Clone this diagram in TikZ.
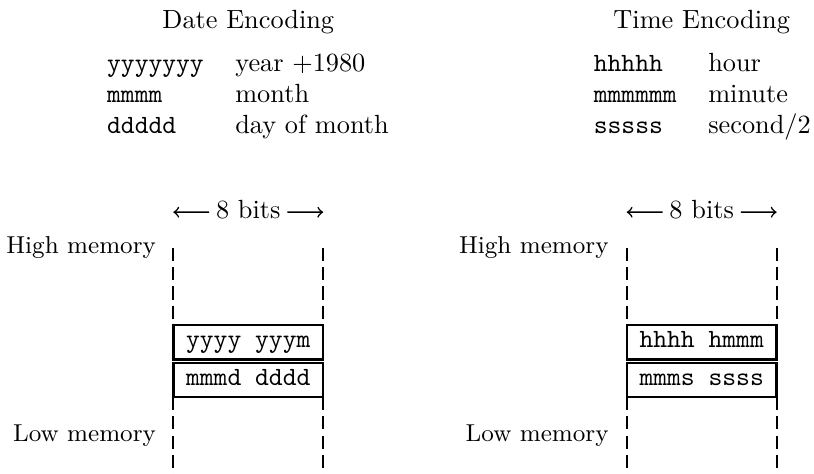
\documentclass[tikz,border=0pt]{standalone}
\usetikzlibrary{positioning}

\begin{document}
\begin{tikzpicture}[x=1cm,y=1cm,>=to,
  byte/.style={draw,line width=0.9pt,minimum width=57pt,minimum height=13.1pt,
    inner sep=0pt,outer sep=0pt,font=\ttfamily,text height=6.1pt,text depth=2.2pt},
  wall/.style={thick,dash pattern=on 5pt off 2.3pt},
  memlabel/.style={anchor=base east,inner sep=0pt,font=\fontsize{9.3pt}{11pt}\selectfont},
  bits/.style={anchor=base,inner xsep=2.4pt,inner ysep=0pt}]
\useasboundingbox (0,0) rectangle (10.879,6.335);

% date encoding table
\node[anchor=base] (dateTitle) at (3.318,5.957) {Date Encoding};
\foreach \code/\desc [count=\i] in {yyyyyyy/{year $+1980$},mmmm/month,ddddd/{day of month}} {
  \node[anchor=base west,inner sep=0pt] (dateCode\i) at (1.425,{5.373-0.408*(\i-1)}) {\texttt{\code}};
  \node[anchor=base west,inner sep=0pt] (dateDesc\i) at (3.138,{5.373-0.408*(\i-1)}) {\desc};
}

% time encoding table
\node[anchor=base] (timeTitle) at (9.378,5.957) {Time Encoding};
\foreach \code/\desc [count=\i] in {hhhhh/hour,mmmmmm/minute,sssss/{second/2}} {
  \node[anchor=base west,inner sep=0pt] (timeCode\i) at (7.930,{5.373-0.408*(\i-1)}) {\texttt{\code}};
  \node[anchor=base west,inner sep=0pt] (timeDesc\i) at (9.459,{5.373-0.408*(\i-1)}) {\desc};
}

% date in memory
\node[byte] (dateHi) at (3.318,1.760) {yyyy yyym};
\node[byte,below=1.2pt of dateHi] (dateLo) {mmmd dddd};
\coordinate (dateTL) at (dateHi.west |- 0,3.020);
\coordinate (dateTR) at (dateHi.east |- 0,3.020);
\coordinate (dateBL) at (dateLo.west |- 0,0);
\coordinate (dateBR) at (dateLo.east |- 0,0);
\draw[wall] (dateTL) -- (dateHi.north west);
\draw[wall] (dateTR) -- (dateHi.north east);
\draw[wall] (dateLo.south west) -- (dateBL);
\draw[wall] (dateLo.south east) -- (dateBR);
\node[bits] (dateBits) at (3.318,3.411) {8 bits};
\coordinate (dateArrL) at (dateHi.west |- 0,3.499);
\coordinate (dateArrR) at (dateHi.east |- 0,3.499);
\draw[->,semithick] ([yshift=2.5pt]dateBits.base west) -- (dateArrL);
\draw[->,semithick] ([yshift=2.5pt]dateBits.base east) -- (dateArrR);
\node[memlabel] (dateHigh) at (2.090,2.950) {High memory};
\node[memlabel] (dateLow) at (2.090,0.428) {Low memory};

% time in memory
\node[byte] (timeHi) at (9.378,1.760) {hhhh hmmm};
\node[byte,below=1.2pt of timeHi] (timeLo) {mmms ssss};
\coordinate (timeTL) at (timeHi.west |- 0,3.020);
\coordinate (timeTR) at (timeHi.east |- 0,3.020);
\coordinate (timeBL) at (timeLo.west |- 0,0);
\coordinate (timeBR) at (timeLo.east |- 0,0);
\draw[wall] (timeTL) -- (timeHi.north west);
\draw[wall] (timeTR) -- (timeHi.north east);
\draw[wall] (timeLo.south west) -- (timeBL);
\draw[wall] (timeLo.south east) -- (timeBR);
\node[bits] (timeBits) at (9.378,3.411) {8 bits};
\coordinate (timeArrL) at (timeHi.west |- 0,3.499);
\coordinate (timeArrR) at (timeHi.east |- 0,3.499);
\draw[->,semithick] ([yshift=2.5pt]timeBits.base west) -- (timeArrL);
\draw[->,semithick] ([yshift=2.5pt]timeBits.base east) -- (timeArrR);
\node[memlabel] (timeHigh) at (8.140,2.950) {High memory};
\node[memlabel] (timeLow) at (8.140,0.428) {Low memory};
\end{tikzpicture}
\end{document}
